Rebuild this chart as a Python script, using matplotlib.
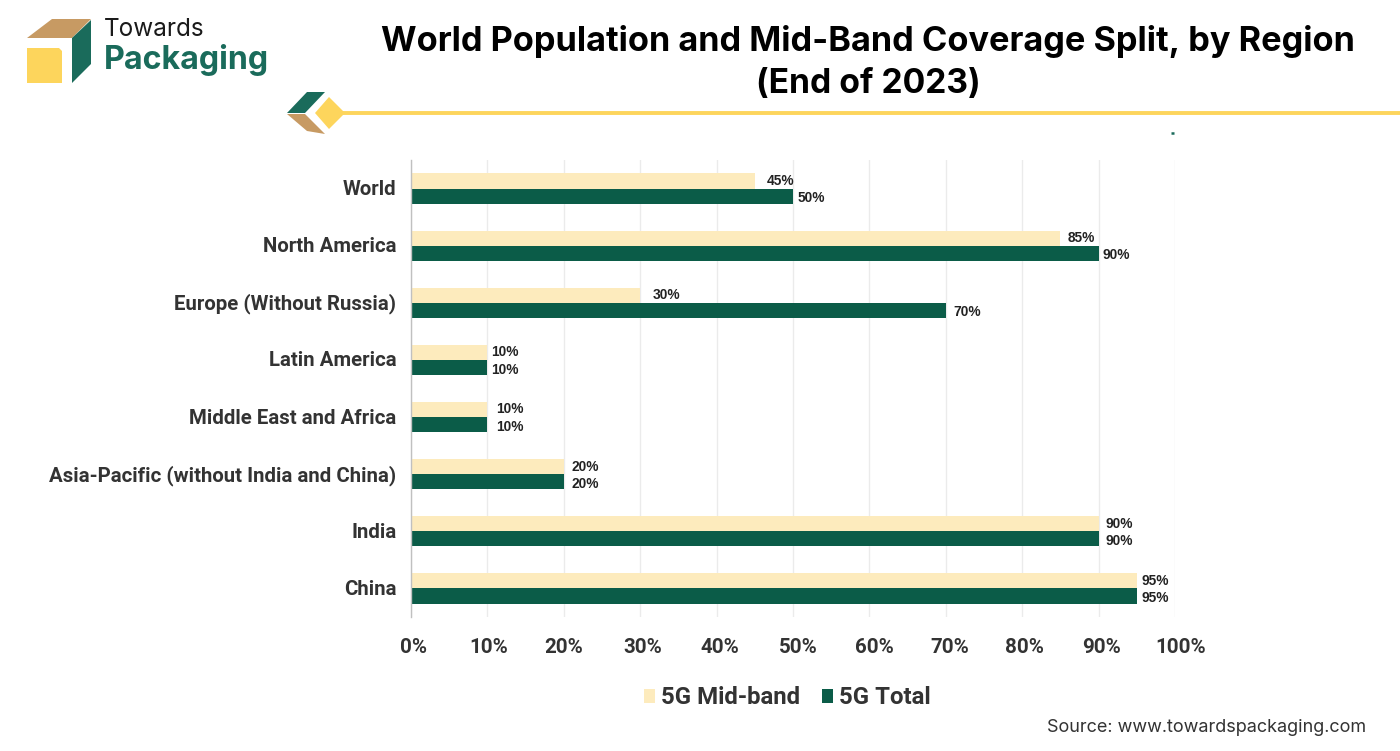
import matplotlib
matplotlib.use('Agg')
import matplotlib.pyplot as plt
from matplotlib.patches import Polygon
from matplotlib.transforms import ScaledTranslation
import numpy as np

# data
regions = ['World', 'North America', 'Europe (Without Russia)', 'Latin America',
           'Middle East and Africa', 'Asia-Pacific (without India and China)',
           'India', 'China']
mid_band = [45, 85, 30, 10, 10, 20, 90, 95]
total = [50, 90, 70, 10, 10, 20, 90, 95]
x_ticks = [0, 10, 20, 30, 40, 50, 60, 70, 80, 90, 100]

# label gaps, in points, the original has them placed by hand
mid_gap = [8.5, 5, 9, 3, 6, 5.5, 5, 3.5]
total_gap = [3, 3, 5.5, 3, 6, 5.5, 5, 3.5]
# same for the x tick labels, in pixels
tick_nudge = [2, 1, 0, 3, 3, 5, 5, 4, 2, 3, 6]

W, H = 1400, 751
MID = '#fdebbd'
TOTAL = '#0b5c48'
TEAL = '#1a6b5b'
TAN = '#c79a63'
YELLOW = '#fdd55c'
TXT = '#333333'

fig = plt.figure(figsize=(14, 7.51), dpi=100)

# overlay in pixel coords for logo and header decoration
bg = fig.add_axes([0, 0, 1, 1])
bg.set_xlim(0, W)
bg.set_ylim(H, 0)
bg.axis('off')

bg.add_patch(Polygon([[27, 38], [52, 19], [91, 19], [72, 38]], color=TAN, lw=0))
bg.add_patch(Polygon([[27, 48], [59, 48], [62, 51], [62, 83], [27, 83]], color=YELLOW, lw=0))
bg.add_patch(Polygon([[72, 38], [91, 20], [91, 64], [72, 83]], color=TEAL, lw=0))
bg.text(104, 29, 'Towards', fontsize=17.5, family='Inter', color='#1a1a1a', va='center')
bg.text(104, 60, 'Packaging', fontsize=23.2, family='Inter', weight='bold', color=TEAL, va='center')

bg.add_patch(Polygon([[287, 113], [307, 92], [325, 92], [305, 113]], color=TEAL, lw=0))
bg.add_patch(Polygon([[287, 114], [305, 114], [325, 134], [307, 131]], color=TAN, lw=0))
bg.add_patch(Polygon([[315, 113], [329, 97], [345, 113], [329, 129]], color=YELLOW, lw=0))
bg.plot([343, 1400], [113, 113], color=YELLOW, lw=2.8, solid_capstyle='butt')
bg.plot([1171, 1174], [133, 133], color=TEAL, lw=1.8, solid_capstyle='butt')

bg.text(868, 41, 'World Population and Mid-Band Coverage Split, by Region',
        fontsize=24.7, family='Inter', weight='bold', color='black', ha='center', va='center')
bg.text(868, 84, '(End of 2023)', fontsize=24.2, family='Inter', weight='bold',
        color='black', ha='center', va='center')

# chart
ax = fig.add_axes([411 / W, 1 - 617 / H, (1175 - 411) / W, (617 - 160) / H])
ax.patch.set_alpha(0)
y = np.arange(len(regions))
h = 0.265
b1 = ax.barh(y - h / 2, mid_band, height=h, color=MID, label='5G Mid-band', zorder=2)
b2 = ax.barh(y + h / 2, total, height=h, color=TOTAL, label='5G Total', zorder=2)

ax.set_xlim(0, 100)
ax.set_ylim(len(regions) - 0.5, -0.5)
ax.set_yticks(y)
ax.set_yticklabels(regions, fontsize=14.65, family='Roboto', weight='bold', color=TXT)
ax.set_xticks(x_ticks)
ax.set_xticklabels([f'{t}%' for t in x_ticks], fontsize=14.8, family='Roboto', weight='bold', color=TXT)
ax.tick_params(axis='y', length=0, pad=10.5)
ax.tick_params(axis='x', length=0, pad=15)
for lab, dx in zip(ax.get_xticklabels(), tick_nudge):
    lab.set_transform(lab.get_transform() + ScaledTranslation(dx / 100, 0, fig.dpi_scale_trans))
for lab in ax.get_yticklabels():
    lab.set_transform(lab.get_transform() + ScaledTranslation(0, 1 / 100, fig.dpi_scale_trans))

ax.grid(axis='x', color='#ebebeb', lw=1, zorder=0)
for s in ['top', 'right', 'bottom']:
    ax.spines[s].set_visible(False)
ax.spines['left'].set_color('#c0c0c0')
ax.spines['left'].set_linewidth(1)

for i in range(len(regions)):
    ax.annotate(f'{mid_band[i]}%', (mid_band[i], y[i] - h / 2), xytext=(mid_gap[i], 0),
                textcoords='offset points', fontsize=9.9, family='Liberation Sans',
                weight='bold', color='#222222', va='center')
    ax.annotate(f'{total[i]}%', (total[i], y[i] + h / 2), xytext=(total_gap[i], -1.5),
                textcoords='offset points', fontsize=9.9, family='Liberation Sans',
                weight='bold', color='#222222', va='center')

leg = fig.legend(handles=[b1, b2], loc='center', bbox_to_anchor=(787 / W, 1 - 698 / H), ncol=2,
                 frameon=False, handlelength=0.48, handleheight=0.48, handletextpad=0.22,
                 columnspacing=0.92, prop={'family': 'Roboto', 'weight': 'bold', 'size': 17.3})
for t in leg.get_texts():
    t.set_color(TXT)

bg.text(1366, 727, 'Source: www.towardspackaging.com', fontsize=13, family='Inter',
        color=TXT, ha='right', va='center')

fig.savefig('out.png', dpi=100)
